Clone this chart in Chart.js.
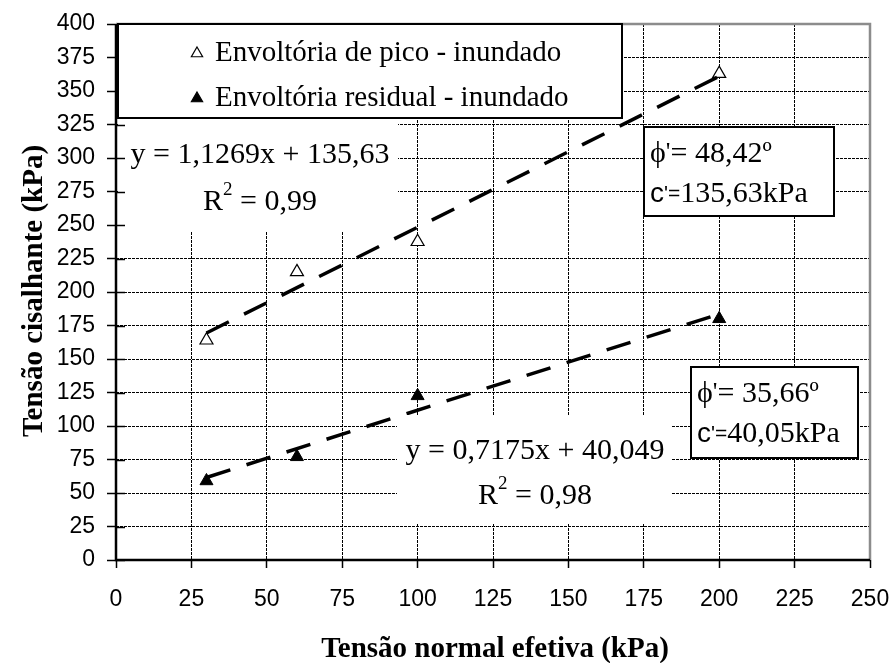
<!DOCTYPE html>
<html>
<head>
<meta charset="utf-8">
<title>Envoltórias de resistência - inundado</title>
<script src="https://cdn.jsdelivr.net/npm/chart.js@4/dist/chart.umd.min.js"></script>
<style>
  html, body { margin: 0; padding: 0; background: #fff; }
  #wrap { width: 893px; height: 663px; }
</style>
</head>
<body>
<div id="wrap"><canvas id="grafico" width="893" height="663"></canvas></div>
<script>
// ---- dados do ensaio ----
const tensaoNormal = [30, 60, 100, 200];
const picoInundado = [164, 215, 237.5, 363];
const residualInundado = [59, 77, 122.5, 180];
const seriesLabels = ['Envoltória de pico - inundado', 'Envoltória residual - inundado'];

// retas de ajuste (y = a·x + b) e parâmetros de resistência
const trendSlope = [1.1269, 0.7175];
const trendIntercept = [135.63, 40.049];
const trendR2 = ['0,99', '0,98'];
const phiLabels = ['48,42º', '35,66º'];
const coesaoLabels = ['135,63kPa', '40,05kPa'];

// eixos
const xTickValues = [0, 25, 50, 75, 100, 125, 150, 175, 200, 225, 250];
const yTickValues = [0, 25, 50, 75, 100, 125, 150, 175, 200, 225, 250, 275, 300, 325, 350, 375, 400];
const xTitle = 'Tensão normal efetiva (kPa)';
const yTitle = 'Tensão cisalhante (kPa)';

const SERIF = "'Liberation Serif', 'Times New Roman', serif";
const SANS = "'Liberation Sans', Arial, sans-serif";

const fmt = v => String(v).replace('.', ',');
const xMin = Math.min(...tensaoNormal);
const xMax = Math.max(...tensaoNormal);
const trendPoints = i => [xMin, xMax].map(x => ({ x, y: trendSlope[i] * x + trendIntercept[i] }));
const equation = i => 'y = ' + fmt(trendSlope[i]) + 'x + ' + fmt(trendIntercept[i]);
const pts = ys => tensaoNormal.map((x, k) => ({ x, y: ys[k] }));

function drawRuns(ctx, x, y, parts, align) {
  ctx.textBaseline = 'alphabetic';
  ctx.textAlign = 'left';
  let total = 0;
  for (const p of parts) { ctx.font = p[1]; total += ctx.measureText(p[0]).width; }
  if (align === 'center') x -= total / 2;
  for (const p of parts) {
    ctx.font = p[1];
    ctx.fillText(p[0], x, y + (p[2] || 0));
    x += ctx.measureText(p[0]).width;
  }
}

function triangle(ctx, cx, cy, r, filled) {
  ctx.beginPath();
  ctx.moveTo(cx, cy - r);
  ctx.lineTo(cx + r * 0.866, cy + r / 2);
  ctx.lineTo(cx - r * 0.866, cy + r / 2);
  ctx.closePath();
  ctx.fillStyle = filled ? '#000' : '#fff';
  ctx.fill();
  ctx.lineWidth = 1.2;
  ctx.strokeStyle = '#000';
  ctx.stroke();
}

function whiteBox(ctx, x1, y1, x2, y2, border) {
  ctx.fillStyle = '#fff';
  ctx.fillRect(x1, y1, x2 - x1, y2 - y1);
  if (border) {
    ctx.lineWidth = 2;
    ctx.strokeStyle = '#000';
    ctx.strokeRect(x1, y1, x2 - x1, y2 - y1);
  }
}

// moldura, rótulos, legenda e títulos desenhados sobre o gráfico
const anotacoes = {
  id: 'anotacoes',
  beforeDatasetsDraw(chart) {
    const { ctx, chartArea: a } = chart;
    ctx.save();
    // moldura cinza (topo e direita)
    ctx.strokeStyle = '#8c8c8c';
    ctx.lineWidth = 2.5;
    ctx.beginPath();
    ctx.moveTo(a.left, a.top);
    ctx.lineTo(a.right, a.top);
    ctx.lineTo(a.right, a.bottom);
    ctx.stroke();
    // eixos
    ctx.strokeStyle = '#000';
    ctx.lineWidth = 2.5;
    ctx.beginPath();
    ctx.moveTo(a.left, a.top);
    ctx.lineTo(a.left, a.bottom);
    ctx.lineTo(a.right, a.bottom);
    ctx.stroke();
    ctx.restore();
  },
  afterDatasetsDraw(chart) {
    const { ctx, chartArea: a, scales } = chart;
    ctx.save();
    ctx.fillStyle = '#000';

    // equações das retas
    whiteBox(ctx, 118, 118, 398, 231, false);
    whiteBox(ctx, 397, 415, 672, 523, false);
    const eqCenters = [[260, 163, 210], [535, 459, 504]];
    for (let i = 0; i < 2; i++) {
      const [cx, b1, b2] = eqCenters[i];
      ctx.fillStyle = '#000';
      drawRuns(ctx, cx, b1, [[equation(i), '30px ' + SERIF]], 'center');
      drawRuns(ctx, cx, b2, [
        ['R', '30px ' + SERIF],
        ['2', '19px ' + SERIF, -15],
        [' = ' + trendR2[i], '30px ' + SERIF]
      ], 'center');
    }

    // parâmetros de resistência
    const boxes = [[644, 127, 834, 216, 162, 202], [691, 367, 858, 458, 402, 442]];
    for (let i = 0; i < 2; i++) {
      const [x1, y1, x2, y2, b1, b2] = boxes[i];
      whiteBox(ctx, x1, y1, x2, y2, true);
      ctx.fillStyle = '#000';
      drawRuns(ctx, x1 + 6, b1, [
        ['\u03D5', '30px ' + SERIF],
        ["'", '26px ' + SERIF, -2],
        ['= ' + phiLabels[i], '30px ' + SERIF]
      ]);
      drawRuns(ctx, x1 + 6, b2, [
        ['c', '28px ' + SANS],
        ["'=", '21px ' + SANS, -2],
        [coesaoLabels[i], '30px ' + SERIF]
      ]);
    }

    // marcas internas do eixo vertical
    ctx.strokeStyle = '#000';
    ctx.lineWidth = 1.5;
    for (const v of yTickValues) {
      const py = Math.round(scales.y.getPixelForValue(v)) + 0.5;
      if (py < 120) continue;
      ctx.beginPath();
      ctx.moveTo(a.left, py);
      ctx.lineTo(a.left + 9, py);
      ctx.stroke();
    }

    // legenda
    whiteBox(ctx, 118, 24, 622, 118, true);
    const rows = [52, 97];
    const base = [61, 106];
    for (let i = 0; i < 2; i++) {
      triangle(ctx, 197, rows[i] + 1.5, 6.5, i === 1);
      ctx.fillStyle = '#000';
      drawRuns(ctx, 215, base[i], [[seriesLabels[i], '29px ' + SERIF]]);
    }

    // títulos dos eixos
    ctx.fillStyle = '#000';
    ctx.font = 'bold 29px ' + SERIF;
    ctx.textAlign = 'center';
    ctx.textBaseline = 'alphabetic';
    ctx.fillText(xTitle, 495, 657);
    ctx.save();
    ctx.translate(42, 291);
    ctx.rotate(-Math.PI / 2);
    ctx.fillText(yTitle, 0, 0);
    ctx.restore();

    ctx.restore();
  }
};

const hidden = v => v === 0 || v === 250 || v === 400;

new Chart(document.getElementById('grafico'), {
  data: {
    datasets: [
      { type: 'line', data: trendPoints(0), borderColor: '#000', borderWidth: 3.5, borderDash: [25, 17],
        pointRadius: 0, fill: false, tension: 0 },
      { type: 'line', data: trendPoints(1), borderColor: '#000', borderWidth: 3.5, borderDash: [25, 17],
        pointRadius: 0, fill: false, tension: 0 },
      { type: 'scatter', label: seriesLabels[0], data: pts(picoInundado), pointStyle: 'triangle',
        pointRadius: 7.5, backgroundColor: '#fff', borderColor: '#000', borderWidth: 1.2 },
      { type: 'scatter', label: seriesLabels[1], data: pts(residualInundado), pointStyle: 'triangle',
        pointRadius: 7.5, backgroundColor: '#000', borderColor: '#000', borderWidth: 1 }
    ]
  },
  options: {
    responsive: false,
    animation: false,
    layout: { padding: { left: 0, right: 23, top: 24, bottom: 0 } },
    plugins: { legend: { display: false }, tooltip: { enabled: false } },
    scales: {
      x: {
        type: 'linear', min: 0, max: 250,
        afterBuildTicks: s => { s.ticks = xTickValues.map(v => ({ value: v })); },
        afterFit: s => { s.height = 103; s.paddingLeft = 0; s.paddingRight = 0; },
        ticks: { autoSkip: false, maxRotation: 0, padding: 18, color: '#000',
                 font: { family: SANS, size: 23 } },
        grid: { color: c => hidden(c.tick && c.tick.value) ? 'rgba(0,0,0,0)' : '#000',
                lineWidth: 1, tickLength: 8, tickColor: '#000', tickWidth: 1.5 },
        border: { display: false, dash: [3, 1] }
      },
      y: {
        type: 'linear', min: 0, max: 400,
        afterBuildTicks: s => { s.ticks = yTickValues.map(v => ({ value: v })); },
        afterFit: s => { s.width = 116; s.paddingTop = 0; s.paddingBottom = 0; },
        ticks: { autoSkip: false, padding: 12, color: '#000',
                 font: { family: SANS, size: 23 } },
        grid: { color: c => hidden(c.tick && c.tick.value) ? 'rgba(0,0,0,0)' : '#000',
                lineWidth: 1, tickLength: 9, tickColor: '#000', tickWidth: 1.5 },
        border: { display: false, dash: [3, 1] }
      }
    }
  },
  plugins: [anotacoes]
});
</script>
</body>
</html>
